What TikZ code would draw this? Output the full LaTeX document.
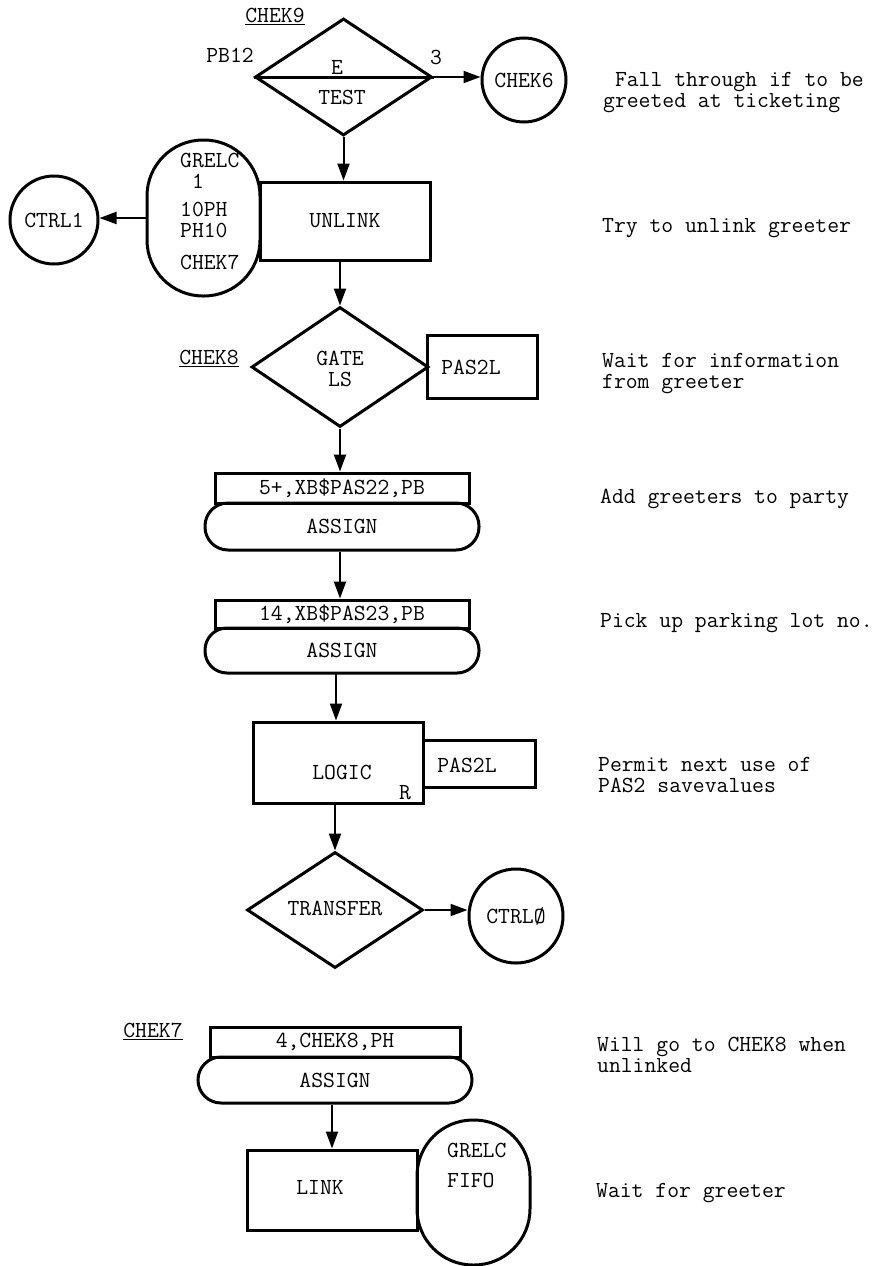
\documentclass[tikz,border=0pt]{standalone}
\usepackage{fontspec}
\usetikzlibrary{shapes.geometric,arrows.meta}
\newcommand\tw{\ttfamily\fontsize{23pt}{21pt}\selectfont\addfontfeatures{FakeBold=1.2}}
\tikzset{
  box/.style={draw, line width=3pt, rectangle, inner sep=0pt},
  dia/.style={draw, line width=3pt, diamond, inner sep=0pt},
  circ/.style={draw, line width=3pt, circle, inner sep=0pt},
  lab/.style={inner sep=0pt},
  cmt/.style={inner sep=0pt, anchor=base west, align=left},
  arr/.style={line width=2pt, -{Triangle[length=17pt,width=12pt]}},
}
\begin{document}
\begin{tikzpicture}[x=1pt,y=-1pt,font=\tw]
\useasboundingbox (0,0) rectangle (891,1266);
% ---- TEST E
\node[dia, minimum width=177pt, minimum height=117pt] (test) at (343.5,77) {};
\draw[line width=3pt] (test.west) -- (test.east);
\node[lab] (tE) at (337,67) {E};
\node[lab] (tT) at (342,97) {TEST};
\node[lab] (c9) at (275,16) {\underline{CHEK9}};
\node[lab] (pb12) at (230,55) {PB12};
\node[lab] (three) at (436,57) {3};
\node[circ, minimum size=84pt] (chek6) at (524,80) {CHEK6};
\draw[arr] (test.east) -- (test.east -| chek6.west);
% ---- UNLINK
\node[box, minimum width=170pt, minimum height=78pt] (unlink) at (345,221) {UNLINK};
\node[box, rounded corners=56pt, minimum width=113pt, minimum height=156pt] (grelc) at (203.5,218) {};
\node[cmt] (g1) at (180,188) {GRELC\\\ 1};
\node[cmt] (g3) at (180,237) {10PH\\PH10};
\node[lab, anchor=base west] (g5) at (180,269) {CHEK7};
\node[circ, minimum size=88pt] (ctrl1) at (54,220) {CTRL1};
\draw[arr] (grelc.west) -- (grelc.west -| ctrl1.east);
\draw[arr] (test.south) -- (test.south |- unlink.north);
% ---- GATE LS
\node[dia, minimum width=177pt, minimum height=120pt] (gate) at (340,367) {};
\node[lab, align=center] (gtxt) at (340,369) {GATE\\LS};
\node[box, minimum width=110pt, minimum height=63pt] (pas1) at (482,366.5) {};
\node[lab] (p1t) at (471,367) {PAS2L};
\node[lab] (c8) at (209,358) {\underline{CHEK8}};
\draw[arr] (gate.north |- unlink.south) -- (gate.north);
% ---- ASSIGN 1
\node[box, minimum width=254pt, minimum height=30pt] (a1r) at (342,488) {5+,XB\$PAS22,PB};
\node[box, rounded corners=23pt, minimum width=274pt, minimum height=47pt] (a1s) at (342,526.5) {ASSIGN};
\draw[arr] (gate.south) -- (gate.south |- a1r.north);
% ---- ASSIGN 2
\node[box, minimum width=254pt, minimum height=28pt] (a2r) at (342,614) {14,XB\$PAS23,PB};
\node[box, rounded corners=22pt, minimum width=274pt, minimum height=45pt] (a2s) at (342,650.5) {ASSIGN};
\coordinate (a12) at (a1s.south -| gate.south);
\draw[arr] (a12) -- (a12 |- a2r.north);
% ---- LOGIC R
\node[box, minimum width=170pt, minimum height=81pt] (logic) at (338,762.5) {};
\node[lab] (lt) at (342,772) {LOGIC};
\node[lab] (lr) at (405,793) {R};
\node[box, minimum width=112pt, minimum height=47pt] (pas2) at (479,763.5) {};
\node[lab] (p2t) at (467,765) {PAS2L};
\coordinate (la) at (336,673);
\draw[arr] (la) -- (la |- logic.north);
% ---- TRANSFER
\node[dia, minimum width=176pt, minimum height=116pt] (transfer) at (335,910) {};
\node[lab] (trt) at (335,908) {TRANSFER};
\node[circ, minimum size=94pt] (ctrl0) at (516,916) {CTRLØ};
\draw[arr] (logic.south -| transfer.north) -- (transfer.north);
\draw[arr] (transfer.east) -- (transfer.east -| ctrl0.west);
% ---- ASSIGN 3
\node[lab] (c7) at (153,1031) {\underline{CHEK7}};
\node[box, minimum width=250pt, minimum height=30pt] (a3r) at (335,1042) {4,CHEK8,PH};
\node[box, rounded corners=23pt, minimum width=274pt, minimum height=46pt] (a3s) at (335,1080) {ASSIGN};
% ---- LINK
\node[box, minimum width=170pt, minimum height=80pt] (link) at (332,1190) {};
\node[lab] (lk) at (320,1187) {LINK};
\node[box, rounded corners=56pt, minimum width=113pt, minimum height=145pt] (grelc2) at (473.5,1192.5) {};
\node[lab, anchor=base west] (f1) at (447,1157) {GRELC};
\node[lab, anchor=base west] (f2) at (447,1187) {FIFO};
\draw[arr] (a3s.south -| link.north) -- (link.north);
% ---- comments (base = last line)
\node[cmt] (m1) at (603,107) {\ Fall through if to be\\greeted at ticketing};
\node[cmt] (m3) at (602,232) {Try to unlink greeter};
\node[cmt] (m4) at (602,388) {Wait for information\\from greeter};
\node[cmt] (m6) at (600,503) {Add greeters to party};
\node[cmt] (m7) at (600,627) {Pick up parking lot no.};
\node[cmt] (m8) at (598,792) {Permit next use of\\PAS2 savevalues};
\node[cmt] (m10) at (597,1072) {Will go to CHEK8 when\\unlinked};
\node[cmt] (m12) at (596,1197) {Wait for greeter};
\end{tikzpicture}
\end{document}
